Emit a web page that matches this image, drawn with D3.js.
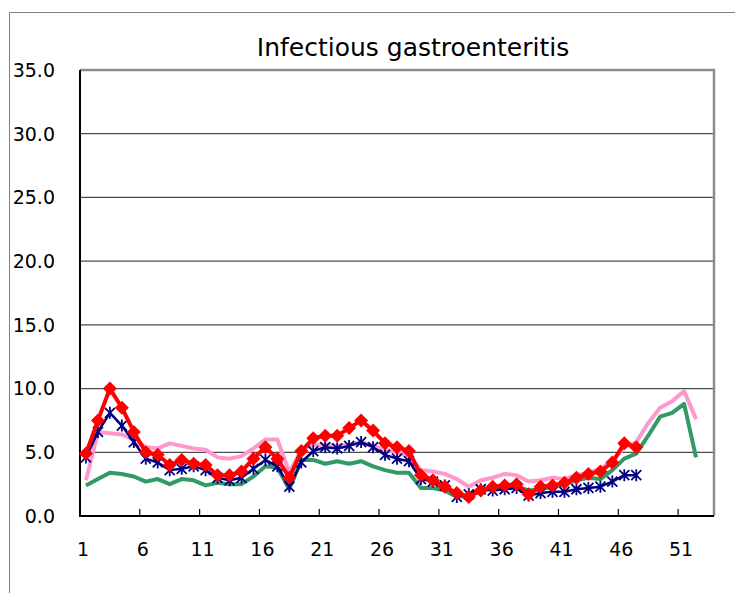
<!DOCTYPE html>
<html>
<head>
<meta charset="utf-8">
<script src="https://cdn.jsdelivr.net/npm/d3@7"></script>
<style>
  body { margin: 0; background: #fff; }
  text { font-family: "DejaVu Sans", sans-serif; fill: #000; }
</style>
</head>
<body>
<div id="chart"></div>
<script>
var title = 'Infectious gastroenteritis'
var weekCount = 53
var weekLabels = [1, 6, 11, 16, 21, 26, 31, 36, 41, 46, 51]
var yTicks = [0, 5, 10, 15, 20, 25, 30, 35]

// weeks 1..52
var pinkSeries = [2.8, 6.6, 6.5, 6.4, 6.0, 5.4, 5.3, 5.7, 5.5, 5.3,
    5.2, 4.6, 4.5, 4.7, 5.3, 6.0, 6.0, 3.4, 5.2, 5.6,
    5.6, 5.5, 5.6, 5.8, 5.5, 5.2, 5.0, 4.7, 3.6, 3.5,
    3.3, 2.9, 2.3, 2.8, 3.0, 3.3, 3.2, 2.7, 2.8, 3.0,
    2.9, 3.2, 3.4, 3.7, 4.3, 5.4, 5.8, 7.3, 8.5, 9.0,
    9.8, 7.6]
var greenSeries = [2.4, 2.9, 3.4, 3.3, 3.1, 2.7, 2.9, 2.5, 2.9, 2.8,
    2.4, 2.6, 2.5, 2.5, 3.1, 3.9, 3.8, 2.1, 4.4, 4.4,
    4.1, 4.3, 4.1, 4.3, 3.9, 3.6, 3.4, 3.4, 2.2, 2.2,
    2.0, 1.5, 1.6, 2.0, 2.2, 2.3, 2.3, 2.0, 2.1, 2.3,
    2.5, 2.8, 3.0, 2.9, 3.6, 4.5, 4.9, 6.3, 7.8, 8.1,
    8.8, 4.6]
// weeks 1..47
var navySeries = [4.6, 6.6, 8.1, 7.1, 5.8, 4.5, 4.2, 3.6, 3.7, 3.9,
    3.6, 3.0, 2.8, 3.0, 3.7, 4.4, 3.9, 2.3, 4.2, 5.1,
    5.4, 5.3, 5.5, 5.8, 5.4, 4.8, 4.5, 4.3, 2.9, 2.7,
    2.4, 1.5, 1.7, 2.1, 2.0, 2.1, 2.2, 1.6, 1.8, 1.9,
    1.9, 2.1, 2.2, 2.3, 2.7, 3.2, 3.2]
var redSeries = [4.9, 7.5, 10.0, 8.5, 6.6, 5.0, 4.8, 4.0, 4.4, 4.1,
    4.0, 3.2, 3.2, 3.5, 4.5, 5.4, 4.5, 3.0, 5.1, 6.1,
    6.3, 6.3, 6.9, 7.5, 6.7, 5.7, 5.4, 5.1, 3.2, 2.8,
    2.3, 1.8, 1.5, 2.0, 2.3, 2.4, 2.5, 1.7, 2.3, 2.4,
    2.6, 3.0, 3.3, 3.5, 4.2, 5.7, 5.4]

var width = 735, height = 593
var plotLeft = 80, plotRight = 714, plotTop = 70, plotBottom = 516

var svg = d3.select('#chart').append('svg')
    .attr('width', width)
    .attr('height', height)
    .style('display', 'block')

// outer chart frame (only top and left edges visible)
svg.append('path')
    .attr('d', 'M9.5,' + height + 'V12.5H' + width)
    .attr('fill', 'none')
    .attr('stroke', '#808080')
    .attr('stroke-width', 1)

var x = d3.scaleLinear().domain([0.5, weekCount + 0.5]).range([plotLeft, plotRight])
var y = d3.scaleLinear().domain([0, 35]).range([plotBottom, plotTop])

// gridlines
svg.append('g').selectAll('line')
    .data(yTicks.filter(d => d > 0 && d < 35))
    .enter()
    .append('line')
    .attr('x1', plotLeft).attr('x2', plotRight)
    .attr('y1', d => y(d)).attr('y2', d => y(d))
    .attr('stroke', '#4d4d4d')
    .attr('stroke-width', 1.3)

// plot frame
svg.append('path')
    .attr('d', 'M' + plotLeft + ',' + plotTop + 'H' + plotRight + 'V' + plotBottom)
    .attr('fill', 'none')
    .attr('stroke', '#8c8c8c')
    .attr('stroke-width', 2.5)

// y labels
svg.append('g').selectAll('text')
    .data(yTicks)
    .enter()
    .append('text')
    .attr('x', 55)
    .attr('y', d => y(d))
    .attr('dy', '0.36em')
    .attr('text-anchor', 'end')
    .style('font-size', '19px')
    .text(d => d.toFixed(1))

// x tick marks every 5 weeks (category boundaries)
svg.append('g').selectAll('line')
    .data(d3.range(5.5, weekCount, 5))
    .enter()
    .append('line')
    .attr('x1', d => x(d)).attr('x2', d => x(d))
    .attr('y1', plotBottom).attr('y2', plotBottom - 7)
    .attr('stroke', '#000')
    .attr('stroke-width', 1.2)

// axes lines
svg.append('path')
    .attr('d', 'M' + plotLeft + ',' + plotTop + 'V' + plotBottom + 'H' + plotRight)
    .attr('fill', 'none')
    .attr('stroke', '#000')
    .attr('stroke-width', 2)

svg.append('g').selectAll('text')
    .data(weekLabels)
    .enter()
    .append('text')
    .attr('x', d => x(d - 0.5) + 3)
    .attr('y', 556)
    .attr('text-anchor', 'middle')
    .style('font-size', '19px')
    .text(d => d)

// title
svg.append('text')
    .attr('x', 413)
    .attr('y', 56)
    .attr('text-anchor', 'middle')
    .style('font-size', '25px')
    .text(title)

var line = d3.line()
    .x((d, i) => x(i + 1))
    .y(d => y(d))

function drawLine(data, color, w) {
    svg.append('path')
        .datum(data)
        .attr('fill', 'none')
        .attr('stroke', color)
        .attr('stroke-width', w)
        .attr('stroke-linejoin', 'round')
        .attr('d', line)
}

drawLine(pinkSeries, '#ff99cc', 4)
drawLine(greenSeries, '#339966', 4)
drawLine(navySeries, '#000080', 2.5)

// star markers
svg.append('g').selectAll('path')
    .data(navySeries)
    .enter()
    .append('path')
    .attr('transform', (d, i) => 'translate(' + x(i + 1) + ',' + y(d) + ')')
    .attr('d', 'M-5,-5L5,5M-5,5L5,-5M0,-6V6')
    .attr('stroke', '#000080')
    .attr('stroke-width', 1.8)
    .attr('fill', 'none')

drawLine(redSeries, '#ff0000', 4)

// diamond markers
svg.append('g').selectAll('path')
    .data(redSeries)
    .enter()
    .append('path')
    .attr('transform', (d, i) => 'translate(' + x(i + 1) + ',' + y(d) + ')')
    .attr('d', 'M0,-7L7,0L0,7L-7,0Z')
    .style('fill', '#ff0000')
</script>
</body>
</html>
